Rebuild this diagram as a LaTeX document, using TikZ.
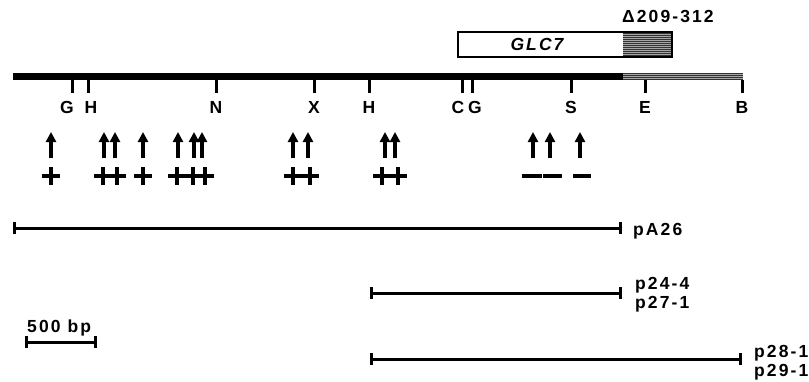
\documentclass[tikz,border=0pt]{standalone}
\usepackage{fontspec}
\setmainfont{Liberation Sans}
\newfontfamily\labfont[LetterSpace=12]{Liberation Sans}
\usetikzlibrary{arrows.meta}

\begin{document}
\begin{tikzpicture}[x=1pt,y=-1pt,
  lab/.style={font=\labfont\bfseries\fontsize{17.5}{19}\selectfont, inner sep=0pt},
  site/.style={lab, anchor=base},
  sitetick/.style={line width=3pt},
  hit/.style={line width=3.4pt, -{Triangle[width=10pt,length=10pt]}},
  sign/.style={line width=3.6pt},
  clone/.style={line width=3pt, {Bar[width=12pt]}-{Bar[width=12pt]}},
  hatchline/.style={line width=0.9pt, black!80},
]
\useasboundingbox (0,0) rectangle (809,381);

% ---- genomic map -------------------------------------------------------
\coordinate (L0) at (13,76.5);
\coordinate (L1) at (623,76.5);
\draw[line width=7pt] (L0) -- (L1);
\fill[black!35] (623,73) rectangle (743,80);
\foreach \yy in {73.6,75.4,77.2,79}
  \draw[hatchline] (623,\yy) -- (743,\yy);

% restriction sites: x position / label / label x
\foreach \x/\t/\lx in {72/G/67, 88/H/91, 216/N/216, 314/X/314, 369/H/369,
                       462/C/458, 472/G/475, 571/S/571, 645/E/645, 742/B/742}{
  \draw[sitetick] (\x,80) -- (\x,93);
  \node[site] at (\lx,113) {\t};
}

% ---- GLC7 gene box -----------------------------------------------------
\fill[white] (458,32) rectangle (672,57);
\fill[black!35] (623,32) rectangle (672,57);
\foreach \yy in {33.5,35.5,...,56}
  \draw[hatchline] (623,\yy) -- (672,\yy);
\draw[line width=2.4pt] (458,32) rectangle (672,57);
\node[lab, anchor=base, font=\labfont\bfseries\itshape\fontsize{17.5}{19}\selectfont]
  (glc) at (537,50) {GLC7};
\node[lab, anchor=base west] (del) at (622,22) {Δ209-312};

% ---- insertion sites and phenotypes ------------------------------------
\foreach \x in {51,104,115,143,178,194,202,293,308,385,395,533,550,580}
  \draw[hit] (\x,158) -- (\x,132);
\foreach \x in {51,103,117,143,177,193,205,293,310,382,398}{
  \draw[sign] (\x-9,176) -- (\x+9,176);
  \draw[sign] (\x,167) -- (\x,185);
}
\foreach \a/\b in {522/542, 543/562, 573/591}
  \draw[sign] (\a,176) -- (\b,176);

% ---- subclones ---------------------------------------------------------
\coordinate (A0) at (13,228);  \coordinate (A1) at (622,228);
\draw[clone] (A0) -- (A1);
\node[lab, anchor=base west] (pA) at (633,235) {pA26};

\coordinate (B0) at (370,293); \coordinate (B1) at (622,293);
\draw[clone] (B0) -- (B1);
\node[lab, anchor=base west] (p24) at (635,289) {p24-4};
\node[lab, anchor=base west] (p27) at (635,308) {p27-1};

\coordinate (C0) at (370,359); \coordinate (C1) at (742,359);
\draw[clone] (C0) -- (C1);
\node[lab, anchor=base west] (p28) at (754,357) {p28-1};
\node[lab, anchor=base west] (p29) at (754,376) {p29-1};

% ---- scale bar ---------------------------------------------------------
\coordinate (S0) at (25,342); \coordinate (S1) at (97,342);
\draw[clone] (S0) -- (S1);
\node[lab, anchor=base west] (bp) at (27,332) {500 bp};
\end{tikzpicture}
\end{document}
